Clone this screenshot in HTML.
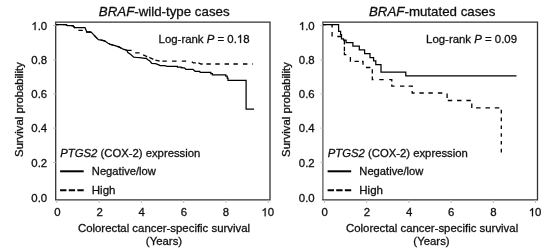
<!DOCTYPE html>
<html><head><meta charset="utf-8"><style>
html,body{margin:0;padding:0;background:#fff;}
svg{display:block;will-change:transform;}
.t{font-family:"Liberation Sans",sans-serif;font-size:11.4px;fill:#111;stroke:#111;stroke-width:0.3px;}
.one{fill:none;stroke:none;}
.onep{fill:#111;stroke:#111;stroke-width:0.3px;vector-effect:non-scaling-stroke;}
.h{font-family:"Liberation Sans",sans-serif;font-size:13.3px;fill:#111;stroke:#111;stroke-width:0.3px;}
</style></head><body>
<svg width="556" height="249" viewBox="0 0 556 249">
<defs><filter id="bl" x="0" y="0" width="556" height="249" filterUnits="userSpaceOnUse"><feGaussianBlur stdDeviation="0.4"/></filter></defs>
<rect width="556" height="249" fill="#fff"/>
<g filter="url(#bl)">
<path d="M55.7,199.9 V22.2" fill="none" stroke="#333" stroke-width="1.3"/>
<path d="M55.050000000000004,22.2 H270.0 V199.9 H55.050000000000004" fill="none" stroke="#333" stroke-width="1.3" stroke-linejoin="miter"/>
<line x1="56.80" y1="199.9" x2="56.80" y2="202.9" stroke="#bbb" stroke-width="1"/>
<text x="57.40" y="216.2" text-anchor="middle" class="t">0</text>
<line x1="99.10" y1="199.9" x2="99.10" y2="202.9" stroke="#bbb" stroke-width="1"/>
<text x="99.55" y="216.2" text-anchor="middle" class="t">2</text>
<line x1="141.40" y1="199.9" x2="141.40" y2="202.9" stroke="#bbb" stroke-width="1"/>
<text x="141.70" y="216.2" text-anchor="middle" class="t">4</text>
<line x1="183.70" y1="199.9" x2="183.70" y2="202.9" stroke="#bbb" stroke-width="1"/>
<text x="183.85" y="216.2" text-anchor="middle" class="t">6</text>
<line x1="226.00" y1="199.9" x2="226.00" y2="202.9" stroke="#bbb" stroke-width="1"/>
<text x="226.00" y="216.2" text-anchor="middle" class="t">8</text>
<line x1="268.30" y1="199.9" x2="268.30" y2="202.9" stroke="#bbb" stroke-width="1"/>
<text x="267.75" y="216.2" text-anchor="middle" class="t"><tspan class="one">1</tspan>0</text>
<text x="47.2" y="201.7" text-anchor="end" class="t">0.0</text>
<line x1="53.2" y1="162.4" x2="55.7" y2="162.4" stroke="#bbb" stroke-width="1"/>
<text x="47.2" y="166.7" text-anchor="end" class="t">0.2</text>
<line x1="53.2" y1="128.1" x2="55.7" y2="128.1" stroke="#bbb" stroke-width="1"/>
<text x="47.2" y="132.29999999999998" text-anchor="end" class="t">0.4</text>
<line x1="53.2" y1="93.9" x2="55.7" y2="93.9" stroke="#bbb" stroke-width="1"/>
<text x="47.2" y="98.1" text-anchor="end" class="t">0.6</text>
<line x1="53.2" y1="59.9" x2="55.7" y2="59.9" stroke="#bbb" stroke-width="1"/>
<text x="47.2" y="63.800000000000004" text-anchor="end" class="t">0.8</text>
<line x1="53.2" y1="25.5" x2="55.7" y2="25.5" stroke="#bbb" stroke-width="1"/>
<text x="47.2" y="30.1" text-anchor="end" class="t"><tspan class="one">1</tspan>.0</text>
<text x="164.2" y="15.5" text-anchor="middle" class="h"><tspan font-style="italic">BRAF</tspan>-wild-type cases</text>
<text x="158.6" y="42.9" class="t" style="font-size:11.4px">Log-rank <tspan font-style="italic">P</tspan> = 0.<tspan class="one">1</tspan>8</text>
<text x="164" y="232.2" text-anchor="middle" class="t" style="font-size:11.4px">Colorectal cancer-specific survival</text>
<text x="164" y="245.4" text-anchor="middle" class="t">(Years)</text>
<text transform="translate(23.4,109.5) rotate(-90)" text-anchor="middle" class="t" style="font-size:11.3px">Survival probability</text>
<text x="60.3" y="156.7" class="t" style="font-size:11.3px"><tspan font-style="italic">PTGS2</tspan> (COX-2) expression</text>
<line x1="60.1" y1="171.3" x2="83.7" y2="171.3" stroke="#000" stroke-width="2"/>
<line x1="60.1" y1="190.3" x2="83.7" y2="190.3" stroke="#000" stroke-width="2" stroke-dasharray="6.35 2.28"/>
<text x="91.8" y="175.3" class="t" style="font-size:11.2px">Negative/low</text>
<text x="91.8" y="194.1" class="t" style="font-size:11.5px">High</text>
<path d="M0,0" transform="translate(0,0)" fill="none" stroke="#000" stroke-width="1.3" stroke-dasharray="4.5 4.36" stroke-dashoffset="5.01"/>
<path d="M56,24.6 H66 L67.5,25.6 H73 L74.8,27.5 H85 L86.8,32 H91.2 L95.4,36.6 L98.4,39.6 L101.4,40.2 L104.5,40.8 L108.1,43.3 L110.5,44.5 L114.1,45.4 L118.9,46.9 L123.2,49.2 L126.8,50.3 L127.9,52.5 L130.5,54.3 L133.7,57.2 L137,57.5 L139.8,57.7 L144.6,58.3 L146,58.2 L147.9,59.8 L149.9,61.1 L151.8,63.3 L155.6,63.6 L158.8,64.9 L160.1,65.6 H164.6 L167.2,66.4 H177.4 V67.1 H181.1 V67.5 H182.2 V67.9 H184.4 L185.8,69.3 H192.9 L195.1,71.3 H199.6 V71.8 L200.7,72.4 H210.8 V73.6 H212.4 V74.9 H225.8 V76.2 H227.2 V78.2 H228 V80.4 H246.1 V109.2 H254.1" transform="translate(0,0)" fill="none" stroke="#000" stroke-width="1.25"/>
<path d="M322.9,199.9 V22.2" fill="none" stroke="#5a5a5a" stroke-width="1.3"/>
<path d="M322.25,22.2 H537.5 V199.9 H322.25" fill="none" stroke="#333" stroke-width="1.3" stroke-linejoin="miter"/>
<line x1="324.50" y1="199.9" x2="324.50" y2="202.9" stroke="#bbb" stroke-width="1"/>
<text x="324.75" y="216.2" text-anchor="middle" class="t">0</text>
<line x1="366.70" y1="199.9" x2="366.70" y2="202.9" stroke="#bbb" stroke-width="1"/>
<text x="366.90" y="216.2" text-anchor="middle" class="t">2</text>
<line x1="408.90" y1="199.9" x2="408.90" y2="202.9" stroke="#bbb" stroke-width="1"/>
<text x="409.05" y="216.2" text-anchor="middle" class="t">4</text>
<line x1="451.10" y1="199.9" x2="451.10" y2="202.9" stroke="#bbb" stroke-width="1"/>
<text x="451.20" y="216.2" text-anchor="middle" class="t">6</text>
<line x1="493.30" y1="199.9" x2="493.30" y2="202.9" stroke="#bbb" stroke-width="1"/>
<text x="493.35" y="216.2" text-anchor="middle" class="t">8</text>
<line x1="535.50" y1="199.9" x2="535.50" y2="202.9" stroke="#bbb" stroke-width="1"/>
<text x="535.10" y="216.2" text-anchor="middle" class="t"><tspan class="one">1</tspan>0</text>
<text x="314.7" y="201.7" text-anchor="end" class="t">0.0</text>
<line x1="320.4" y1="162.4" x2="322.9" y2="162.4" stroke="#bbb" stroke-width="1"/>
<text x="314.7" y="166.7" text-anchor="end" class="t">0.2</text>
<line x1="320.4" y1="128.1" x2="322.9" y2="128.1" stroke="#bbb" stroke-width="1"/>
<text x="314.7" y="132.29999999999998" text-anchor="end" class="t">0.4</text>
<line x1="320.4" y1="93.9" x2="322.9" y2="93.9" stroke="#bbb" stroke-width="1"/>
<text x="314.7" y="98.1" text-anchor="end" class="t">0.6</text>
<line x1="320.4" y1="59.9" x2="322.9" y2="59.9" stroke="#bbb" stroke-width="1"/>
<text x="314.7" y="63.800000000000004" text-anchor="end" class="t">0.8</text>
<line x1="320.4" y1="25.5" x2="322.9" y2="25.5" stroke="#bbb" stroke-width="1"/>
<text x="314.7" y="30.1" text-anchor="end" class="t"><tspan class="one">1</tspan>.0</text>
<text x="432.2" y="15.5" text-anchor="middle" class="h"><tspan font-style="italic">BRAF</tspan>-mutated cases</text>
<text x="426.1" y="42.9" class="t" style="font-size:11.4px">Log-rank <tspan font-style="italic">P</tspan> = 0.09</text>
<text x="432.1" y="232.2" text-anchor="middle" class="t" style="font-size:11.4px">Colorectal cancer-specific survival</text>
<text x="431.5" y="245.4" text-anchor="middle" class="t">(Years)</text>
<text transform="translate(290.1,109.5) rotate(-90)" text-anchor="middle" class="t" style="font-size:11.3px">Survival probability</text>
<text x="327.8" y="156.7" class="t" style="font-size:11.3px"><tspan font-style="italic">PTGS2</tspan> (COX-2) expression</text>
<line x1="327.6" y1="171.3" x2="351.2" y2="171.3" stroke="#000" stroke-width="2"/>
<line x1="327.6" y1="190.3" x2="351.2" y2="190.3" stroke="#000" stroke-width="2" stroke-dasharray="6.35 2.28"/>
<text x="359.3" y="175.3" class="t" style="font-size:11.2px">Negative/low</text>
<text x="359.3" y="194.1" class="t" style="font-size:11.5px">High</text>
<path d="M0,0" transform="translate(267.5,0)" fill="none" stroke="#000" stroke-width="1.3" stroke-dasharray="4.5 4.2" stroke-dashoffset="0.59"/>
<path d="M 55.5,24.6 H 71.1 V 31.3 H 73.1 V 34.6 H 74.0 V 38.9 H 76.1 V 40.1 H 78.6 V 42.6 H 85.4 V 46 H 91.8 V 49.8 H 97.1 V 53.6 H 102.5 V 57.6 H 106.1 V 60.9 H 108.3 V 64.6 H 113.5 V 72 H 138.3 V 75.8 H 249.0" transform="translate(267.5,0)" fill="none" stroke="#000" stroke-width="1.25"/>
<path d="M127.20,50.30 L131.60,50.30 M135.20,52.80 L139.10,52.80 L139.55,53.02 M143.14,54.82 L144.90,55.70 L147.18,56.55 M149.35,57.41 L151.30,58.30 L153.32,59.31 M155.38,60.19 L159.70,61.04 M162.40,61.10 L166.80,61.10 M172.10,61.10 L176.50,61.10 M181.80,61.10 L186.20,61.10 M191.79,61.78 L193.30,62.80 L195.88,62.80 M198.43,62.97 L201.00,64.00 L202.63,64.00 M206.40,64.00 L210.80,64.00 M215.30,64.00 L219.70,64.00 M224.60,64.00 L229.00,64.00 M233.40,64.00 L237.80,64.00 M243.00,64.00 L247.40,64.00 M252.10,64.00 L252.80,64.00 M56.00,24.60 L58.57,24.60 M63.07,24.60 L66.00,24.60 L67.15,25.52 M71.55,25.80 L73.00,25.80 L74.73,28.20 M78.40,30.30 L82.80,30.30 M86.67,31.88 L86.80,32.00 L91.02,32.00 M94.12,35.19 L95.40,36.60 L97.16,38.36 M101.10,40.14 L101.40,40.20 L104.50,40.80 L105.27,41.33 M109.04,43.77 L110.50,44.50 L113.19,45.17 M117.50,46.46 L118.90,46.90 L121.48,48.28 M125.64,49.95 L126.80,50.30" fill="none" stroke="#000" stroke-width="1.3"/>
<path d="M323.00,24.60 L326.20,24.60 M330.70,24.60 L332.10,24.60 L332.10,27.60 M332.10,32.10 L332.10,36.50 M337.30,36.50 L341.70,36.50 M344.40,40.10 L344.40,44.50 M344.40,46.80 L344.40,51.20 M344.40,52.30 L344.40,54.70 L346.40,54.70 M350.40,57.10 L350.40,61.40 L350.50,61.40 M354.50,61.40 L358.90,61.40 M362.00,61.40 L363.00,61.40 L363.00,64.80 M366.00,67.50 L370.40,67.50 M372.30,69.20 L372.30,73.60 M372.30,76.50 L372.30,79.70 L373.50,79.70 M379.30,79.70 L383.70,79.70 M389.20,79.70 L391.80,79.70 L391.80,81.50 M391.80,84.50 L391.80,86.20 L394.50,86.20 M400.00,86.20 L404.40,86.20 M408.60,86.20 L412.20,86.20 L412.20,87.00 M412.20,91.00 L412.20,93.00 L414.60,93.00 M419.40,93.00 L423.80,93.00 M428.40,93.00 L432.80,93.00 M437.90,93.00 L442.30,93.00 M447.10,93.50 L447.10,97.90 M447.80,100.50 L452.20,100.50 M457.10,100.50 L461.50,100.50 M466.40,100.50 L470.80,100.50 M471.80,103.60 L471.80,107.90" fill="none" stroke="#000" stroke-width="1.3"/>
<path d="M471.8,107.9 H501.3" fill="none" stroke="#000" stroke-width="1.3" stroke-dasharray="4.5 4.85" stroke-dashoffset="5.05"/>
<path d="M501.3,107.9 V152.5" fill="none" stroke="#000" stroke-width="1.3" stroke-dasharray="3.6 4.2" stroke-dashoffset="5.9"/>
<path class="onep" transform="translate(261.41,216.20) scale(0.005566,-0.005566)" d="M763,0 H583 V1147 C540,1106 483,1065 413,1024 C343,983 280,952 223,930 V1104 C323,1151 410,1208 485,1275 C560,1342 613,1406 644,1466 H763 Z"/>
<path class="onep" transform="translate(31.36,30.10) scale(0.005566,-0.005566)" d="M763,0 H583 V1147 C540,1106 483,1065 413,1024 C343,983 280,952 223,930 V1104 C323,1151 410,1208 485,1275 C560,1342 613,1406 644,1466 H763 Z"/>
<path class="onep" transform="translate(236.82,42.90) scale(0.005566,-0.005566)" d="M763,0 H583 V1147 C540,1106 483,1065 413,1024 C343,983 280,952 223,930 V1104 C323,1151 410,1208 485,1275 C560,1342 613,1406 644,1466 H763 Z"/>
<path class="onep" transform="translate(528.76,216.20) scale(0.005566,-0.005566)" d="M763,0 H583 V1147 C540,1106 483,1065 413,1024 C343,983 280,952 223,930 V1104 C323,1151 410,1208 485,1275 C560,1342 613,1406 644,1466 H763 Z"/>
<path class="onep" transform="translate(298.86,30.10) scale(0.005566,-0.005566)" d="M763,0 H583 V1147 C540,1106 483,1065 413,1024 C343,983 280,952 223,930 V1104 C323,1151 410,1208 485,1275 C560,1342 613,1406 644,1466 H763 Z"/>
</g>
</svg>
</body></html>
